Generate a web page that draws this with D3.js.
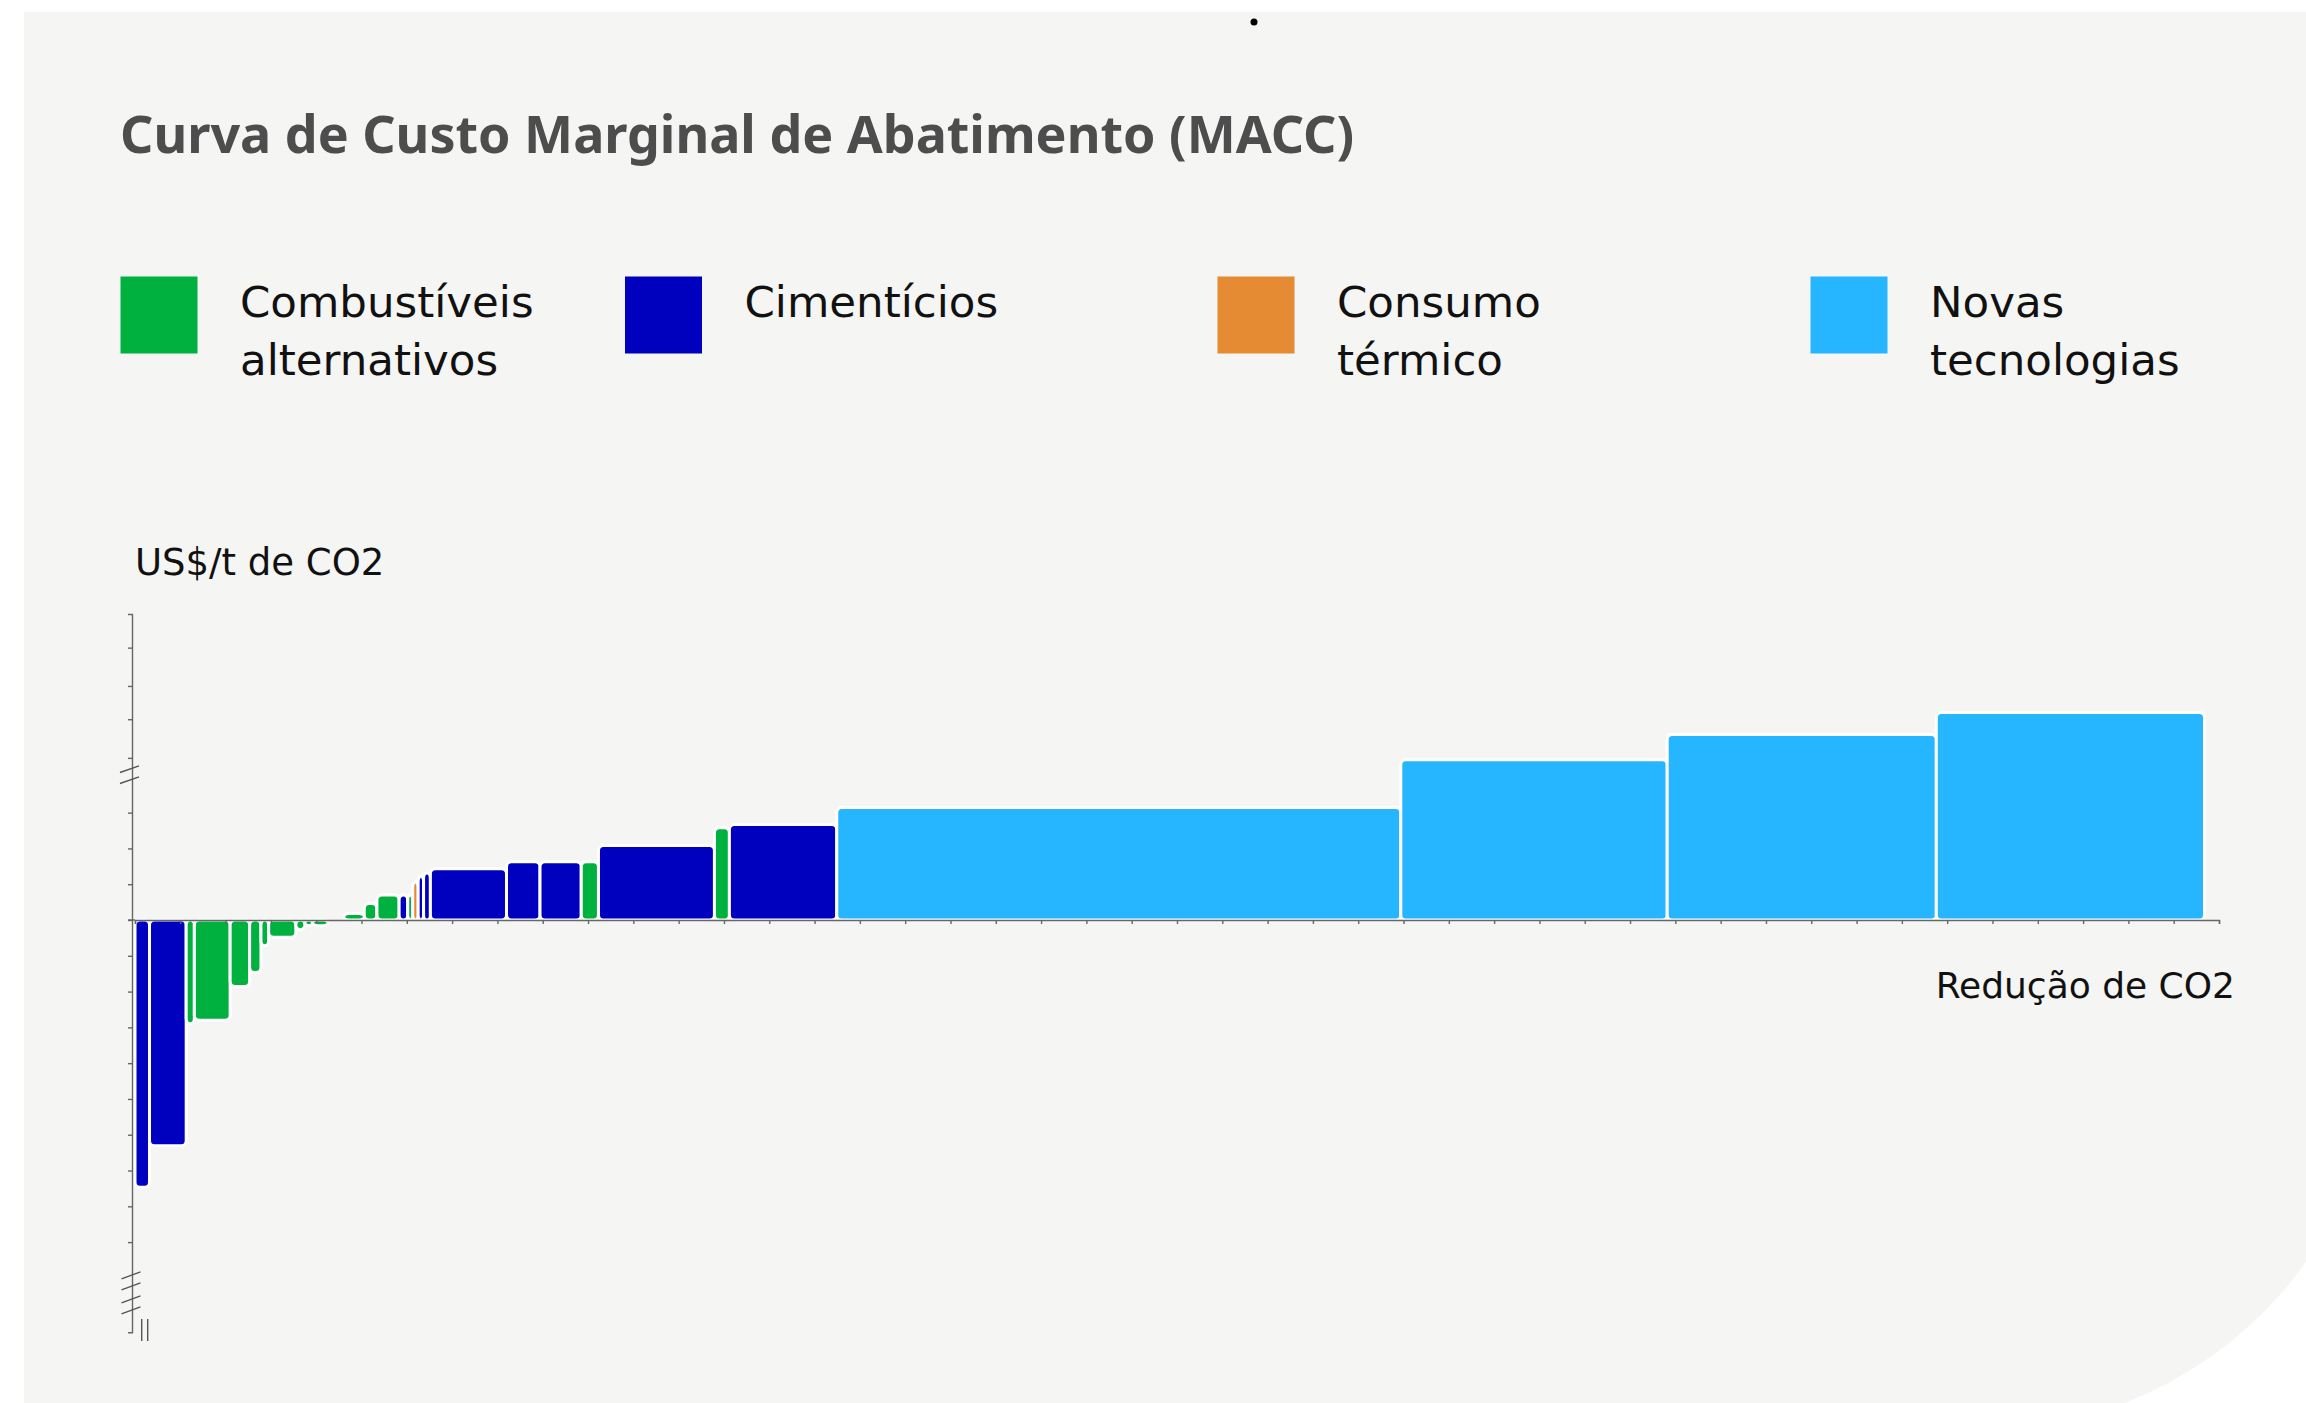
<!DOCTYPE html>
<html><head><meta charset="utf-8">
<script src="https://cdn.jsdelivr.net/npm/d3@7"></script>
<style>
html,body{margin:0;padding:0;background:#fff;overflow:hidden;}
svg{display:block;}
text{font-family:"DejaVu Sans", sans-serif;}
</style></head><body>
<svg id="chart" width="2306" height="1403"></svg>
<script>
// ---------- DATA ----------
const title = "Curva de Custo Marginal de Abatimento (MACC)";
const categories = ["Combustíveis alternativos", "Cimentícios", "Consumo térmico", "Novas tecnologias"];
const legendLines = [["Combustíveis", "alternativos"], ["Cimentícios"], ["Consumo", "térmico"], ["Novas", "tecnologias"]];
const yAxisLabel = "US$/t de CO2";
const xAxisLabel = "Redução de CO2";
// bar category index (into categories), width (CO2 reduction), cost (US$/t)
const barCategory = [1, 1, 0, 0, 0, 0, 0, 0, 0, 0, 0, 0, 0, 0, 0, 1, 0, 2, 1, 1, 1, 1, 1, 0, 1, 0, 1, 3, 3, 3, 3];
const barWidth    = [0.32, 0.81, 0.18, 0.79, 0.43, 0.25, 0.17, 0.60, 0.20, 0.17, 0.34, 0.35, 0.45, 0.28, 0.49, 0.19, 0.11, 0.12, 0.12, 0.15, 1.68, 0.74, 0.91, 0.38, 2.56, 0.33, 2.37, 12.45, 5.88, 5.94, 5.92];
const barCost     = [-74.7, -63.1, -29.0, -28.0, -18.6, -14.7, -7.2, -4.8, -2.7, -1.6, -1.6, 0, 1.8, 4.6, 7.0, 7.0, 7.0, 10.6, 12.2, 13.1, 14.3, 16.3, 16.3, 16.3, 20.8, 25.8, 26.7, 31.4, 44.8, 51.8, 58.0];
const xDomain = [0, 46];
const xTickValues = d3.range(0, 47, 1);
const yDomain = [-115.2, 85.5];
const yTickValues = [76.1, 65.4, 56.1, 45.3, 30, 20, 10, 0, -10, -20, -30, -40, -50, -60, -70, -80, -90];

// ---------- STYLE / LAYOUT ----------
const colors = ["#00b140", "#0000bf", "#e48b34", "#26b5ff"];
const legendX = [120.5, 625, 1217.5, 1810.5];
const axisColor = "#666";

const svg = d3.select("#chart");

// panel background with large rounded bottom-right corner
svg.append("path")
  .attr("d", "M24,12 H2380 V1030 A400,400 0 0 1 1980,1430 H24 Z")
  .attr("fill", "#f5f5f3");

svg.append("circle").attr("cx", 1254).attr("cy", 22).attr("r", 3.5).attr("fill", "#000");

// title
svg.append("text").attr("x", 120).attr("y", 153)
  .attr("font-size", 52).attr("font-weight", 700).attr("fill", "#4d4d4d")
  .style("font-family", "'Noto Sans', 'DejaVu Sans', sans-serif")
  .text(title);

// legend
const leg = svg.append("g").selectAll("g").data(categories).join("g")
  .attr("transform", (d, i) => `translate(${legendX[i]},276.5)`);
leg.append("rect").attr("width", 77).attr("height", 77).attr("fill", (d, i) => colors[i]);
leg.append("text").attr("x", 119.5).attr("y", 40.5)
  .attr("font-size", 43.5).attr("fill", "#111")
  .selectAll("tspan").data((d, i) => legendLines[i]).join("tspan")
  .attr("x", 119.5).attr("dy", (d, j) => j === 0 ? 0 : 57.5).text(d => d);

// scales
const x = d3.scaleLinear().domain(xDomain).range([135, 2219]);
const y = d3.scaleLinear().domain(yDomain).range([1332.3, 614]);

// bars
let acc = 0;
const bars = barWidth.map((w, i) => {
  const b = { x0: acc, x1: acc + w, cost: barCost[i], cat: barCategory[i] };
  acc += w;
  return b;
});
svg.append("g").selectAll("rect").data(bars.filter(d => d.cost !== 0)).join("rect")
  .attr("x", d => x(d.x0))
  .attr("width", d => x(d.x1) - x(d.x0))
  .attr("y", d => y(Math.max(0, d.cost)))
  .attr("height", d => Math.abs(y(d.cost) - y(0)))
  .attr("rx", 5).attr("ry", 5)
  .attr("fill", d => colors[d.cat])
  .attr("stroke", "#fff").attr("stroke-width", 3);

// x axis
const gx = svg.append("g").attr("transform", `translate(0,${y(0)})`)
  .call(d3.axisBottom(x).tickValues(xTickValues).tickSize(4).tickSizeOuter(4).tickFormat(""));
gx.selectAll("path,line").attr("stroke", axisColor).attr("stroke-width", 1.4);
svg.append("line").attr("x1", 128).attr("x2", 135).attr("y1", y(0)).attr("y2", y(0))
  .attr("stroke", axisColor).attr("stroke-width", 1.4);

// y axis
const gy = svg.append("g").attr("transform", "translate(132,0)")
  .call(d3.axisLeft(y).tickValues(yTickValues).tickSize(4).tickSizeOuter(4).tickFormat(""));
gy.selectAll("path,line").attr("stroke", axisColor).attr("stroke-width", 1.4);

// axis break marks
const brk = svg.append("g").attr("stroke", "#555").attr("stroke-width", 1.4);
const topBreak = y(40.6);
[-5.5, 5.5].forEach(o => {
  brk.append("line").attr("x1", 120).attr("y1", topBreak + o + 3.3).attr("x2", 139).attr("y2", topBreak + o - 3.3);
});
const botBreak = y(-104.2);
[-17.5, -6.5, 6.5, 17.5].forEach(o => {
  brk.append("line").attr("x1", 121.5).attr("y1", botBreak + o + 3.5).attr("x2", 140.5).attr("y2", botBreak + o - 3.5);
});
[141.7, 147.7].forEach(px => {
  brk.append("line").attr("x1", px).attr("x2", px).attr("y1", 1319).attr("y2", 1341);
});

// axis labels
svg.append("text").attr("x", 135).attr("y", 575).attr("font-size", 37).attr("fill", "#111").text(yAxisLabel);
svg.append("text").attr("x", 2235).attr("y", 998).attr("text-anchor", "end").attr("font-size", 36).attr("fill", "#111").text(xAxisLabel);
</script>
</body></html>
